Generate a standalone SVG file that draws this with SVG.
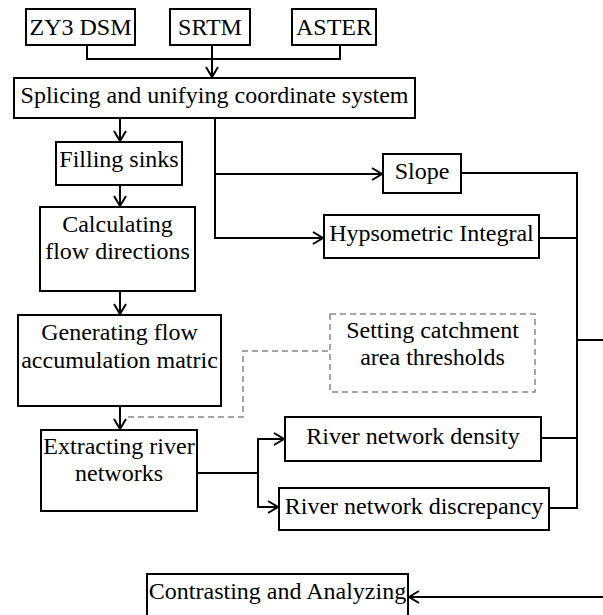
<svg xmlns="http://www.w3.org/2000/svg" width="603" height="615" viewBox="0 0 603 615">
<style>
.box{fill:#fff;stroke:#000;stroke-width:2}
.dbox{fill:#fff;stroke:#888;stroke-width:1.5;stroke-dasharray:6 4}
text{font-family:'Liberation Serif','DejaVu Serif',serif;font-size:24px;fill:#000;text-anchor:middle}
.c{fill:none;stroke:#000;stroke-width:2}
.d{fill:none;stroke:#888;stroke-width:1.5;stroke-dasharray:6 4}
</style>
<defs>
<marker id="arr" markerUnits="userSpaceOnUse" markerWidth="14" markerHeight="14" refX="11" refY="7" orient="auto">
<path d="M1,1 L11,7 L1,13" fill="none" stroke="#000" stroke-width="2"/>
</marker>
</defs>
<rect width="603" height="615" fill="#fff"/>
<g id="connectors">
<path class="c" d="M87,45 V59 H340 V45"/>
<path class="c" d="M212,45 V77" marker-end="url(#arr)"/>
<path class="c" d="M120,118 V141" marker-end="url(#arr)"/>
<path class="c" d="M120,185 V206" marker-end="url(#arr)"/>
<path class="c" d="M120,291 V314" marker-end="url(#arr)"/>
<path class="c" d="M120,406 V429" marker-end="url(#arr)"/>
<path class="c" d="M215,118 V238 H323" marker-end="url(#arr)"/>
<path class="c" d="M215,174 H382" marker-end="url(#arr)"/>
<path class="d" d="M128,417 H243 V351 H330"/>
<path class="c" d="M197,473 H258 V439 H284" marker-end="url(#arr)"/>
<path class="c" d="M258,473 V507 H278" marker-end="url(#arr)"/>
<path class="c" d="M461,173 H577 V508 H549"/>
<path class="c" d="M539,238 H577"/>
<path class="c" d="M541,438 H577"/>
<path class="c" d="M577,340 H603"/>
<path class="c" d="M603,597 H409" marker-end="url(#arr)"/>
</g>
<g id="zy3"><rect class="box" x="26" y="9" width="109" height="36"/><text font-family="Liberation Serif, serif" x="80.5" y="35">ZY3 DSM</text></g>
<g id="srtm"><rect class="box" x="170" y="9" width="80" height="36"/><text font-family="Liberation Serif, serif" x="210" y="35">SRTM</text></g>
<g id="aster"><rect class="box" x="292" y="9" width="84" height="36"/><text font-family="Liberation Serif, serif" x="334" y="35">ASTER</text></g>
<g id="splicing"><rect class="box" x="14" y="78" width="401" height="40"/><text x="214.5" y="103">Splicing and unifying coordinate system</text></g>
<g id="filling"><rect class="box" x="56" y="142" width="126" height="43"/><text x="119" y="167">Filling sinks</text></g>
<g id="calc"><rect class="box" x="40" y="207" width="155" height="84"/><text x="117.5" y="232">Calculating</text><text x="117.5" y="259">flow directions</text></g>
<g id="gen"><rect class="box" x="18" y="315" width="203" height="91"/><text x="119.5" y="340">Generating flow</text><text x="119.5" y="368">accumulation matric</text></g>
<g id="setting"><rect class="dbox" x="330" y="314" width="205" height="78"/><text x="432.5" y="338">Setting catchment</text><text x="432.5" y="365">area thresholds</text></g>
<g id="extract"><rect class="box" x="41" y="430" width="156" height="81"/><text x="119" y="454">Extracting river</text><text x="119" y="481">networks</text></g>
<g id="slope"><rect class="box" x="383" y="154" width="78" height="39"/><text x="422" y="179">Slope</text></g>
<g id="hyp"><rect class="box" x="324" y="215" width="215" height="43"/><text x="431.5" y="241">Hypsometric Integral</text></g>
<g id="density"><rect class="box" x="285" y="417" width="256" height="44"/><text x="413" y="444">River network density</text></g>
<g id="discrepancy"><rect class="box" x="279" y="488" width="270" height="42"/><text x="414" y="514">River network discrepancy</text></g>
<g id="contrast"><rect class="box" x="147" y="574" width="261" height="60"/><text x="277.5" y="599">Contrasting and Analyzing</text></g>
</svg>
